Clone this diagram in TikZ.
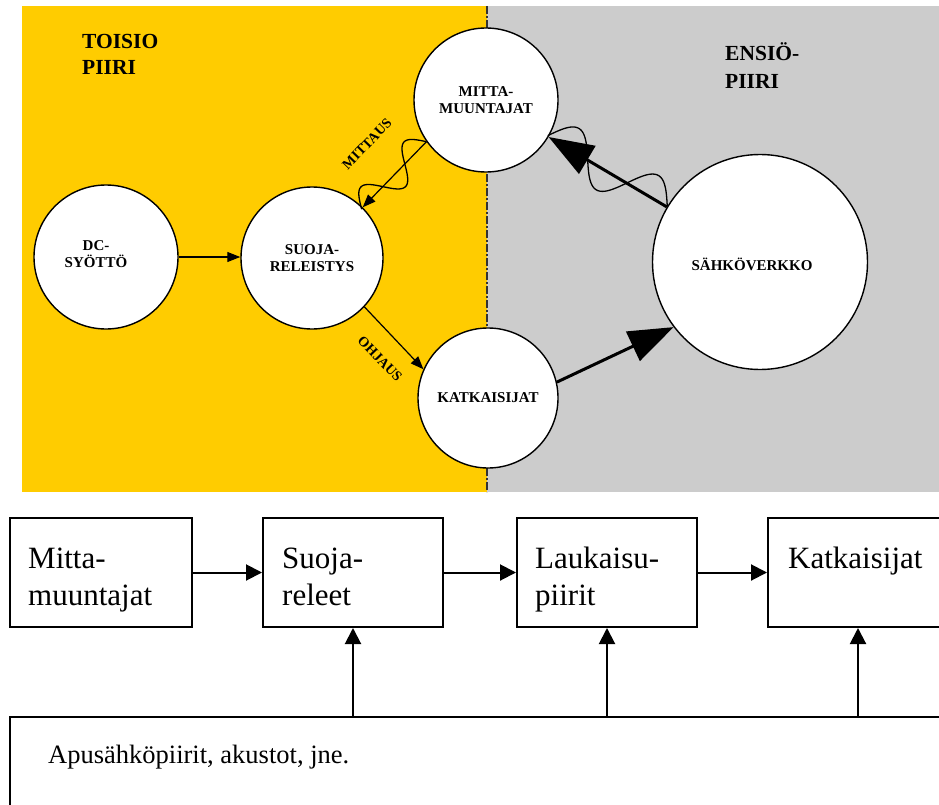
\documentclass[tikz,border=0pt]{standalone}
\usepackage{fontspec}
\setmainfont{Liberation Serif}
\usetikzlibrary{arrows.meta,calc}
\definecolor{secyellow}{RGB}{255,204,0}
\definecolor{primgray}{RGB}{204,204,204}
\begin{document}
\begin{tikzpicture}[x=1pt,y=-1pt,
  unit/.style={circle,draw=black,fill=white,line width=1.4pt,inner sep=0pt,
    font=\bfseries\fontsize{15}{17}\selectfont,align=center},
  ctext/.style={font=\bfseries\fontsize{15}{17}\selectfont,align=center,inner sep=0pt},
  region/.style={font=\bfseries\fontsize{21.5}{26}\selectfont,anchor=base west,inner sep=0pt},
  tag/.style={font=\bfseries\fontsize{14}{16}\selectfont,inner sep=0pt},
  thin arrow/.style={line width=1.2pt,-{Triangle[length=13pt,width=10pt]}},
  heavy arrow/.style={line width=3pt,-{Triangle[length=45pt,width=32pt]}},
  wave/.style={line width=1.3pt},
  block/.style={rectangle,draw=black,line width=2pt,fill=white,inner sep=0pt},
  btext/.style={font=\fontsize{31}{37}\selectfont,anchor=base west,inner sep=0pt},
  flow/.style={line width=2pt,-{Triangle[length=16pt,width=16pt]}},
]
\useasboundingbox (0,0) rectangle (939,805);
\clip (0,0) rectangle (939,805);

% secondary (yellow) and primary (grey) circuit areas
\fill[secyellow] (22,6) rectangle (487,492);
\fill[primgray] (487,6) rectangle (939,492);
\draw[line width=1.1pt,black!80,dash pattern=on 8pt off 2pt on 2pt off 2pt] (487,6) -- (487,492);

\node[region] (toisio1) at (82,49) {TOISIO};
\node[region] (toisio2) at (82,75) {PIIRI};
\node[region] (ensio1) at (725,61) {ENSIÖ-};
\node[region] (ensio2) at (725,89) {PIIRI};

% circuit units
\node[unit,minimum size=144pt] (mitta) at (486,100) {MITTA-\\MUUNTAJAT};
\node[unit,minimum size=144pt] (dc) at (106,257) {};
\node[ctext] (dctext) at (96,254) {DC-\\SYÖTTÖ};
\node[unit,minimum size=142pt] (suoja) at (312,258) {SUOJA-\\RELEISTYS};
\node[unit,minimum size=140pt] (katk) at (488,398) {KATKAISIJAT};
\node[unit,minimum size=215pt] (sahko) at (760,262) {};
\node[ctext,anchor=base] (sahkotext) at (752,270) {SÄHKÖVERKKO};

% connections
\draw[thin arrow] (dc.east) -- (dc.east -| suoja.west);
\draw[thin arrow] (mitta.215) -- (suoja.45);
\draw[thin arrow] (suoja.-43) -- (katk.156);
\draw[heavy arrow] (sahko) -- (mitta);
\draw[heavy arrow] (katk.13) -- (sahko.217);

% signal waves along the measuring links (1.5 periods each)
\begin{scope}[shift={(mitta.215)},rotate=226.2]
  \draw[wave] plot[domain=0:93.6,samples=90,variable=\s] (\s,{16*sin(5.7692*\s)});
\end{scope}
\begin{scope}[shift={(sahko.149.4)},rotate=149.4]
  \draw[wave] plot[domain=0:138.8,samples=110,variable=\s] (\s,{22*sin(3.8905*\s)});
\end{scope}

\node[tag,rotate=46] (mittaus) at (367,144) {MITTAUS};
\node[tag,rotate=-46] (ohjaus) at (380,359) {OHJAUS};

% block chain
\node[block,minimum width=182pt,minimum height=109pt] (b1) at (101,572.5) {};
\node[block,minimum width=180pt,minimum height=109pt] (b2) at (353,572.5) {};
\node[block,minimum width=180pt,minimum height=109pt] (b3) at (607,572.5) {};
\node[block,minimum width=180pt,minimum height=109pt] (b4) at (858,572.5) {};
\node[block,minimum width=990pt,minimum height=133pt] (aux) at (505,783.5) {};

\node[btext] (b1a) at (28,568) {Mitta-};
\node[btext] (b1b) at (28,605) {muuntajat};
\node[btext] (b2a) at (282,568) {Suoja-};
\node[btext] (b2b) at (282,605) {releet};
\node[btext] (b3a) at (535,568) {Laukaisu-};
\node[btext] (b3b) at (535,605) {piirit};
\node[btext] (b4a) at (788,568) {Katkaisijat};
\node[font=\fontsize{26.5}{30}\selectfont,anchor=base west,inner sep=0pt] (auxtext) at (48,763) {Apusähköpiirit, akustot, jne.};

\draw[flow] (b1) -- (b2);
\draw[flow] (b2) -- (b3);
\draw[flow] (b3) -- (b4);
\draw[flow] (aux.north -| b2.south) -- (b2.south);
\draw[flow] (aux.north -| b3.south) -- (b3.south);
\draw[flow] (aux.north -| b4.south) -- (b4.south);
\end{tikzpicture}
\end{document}
